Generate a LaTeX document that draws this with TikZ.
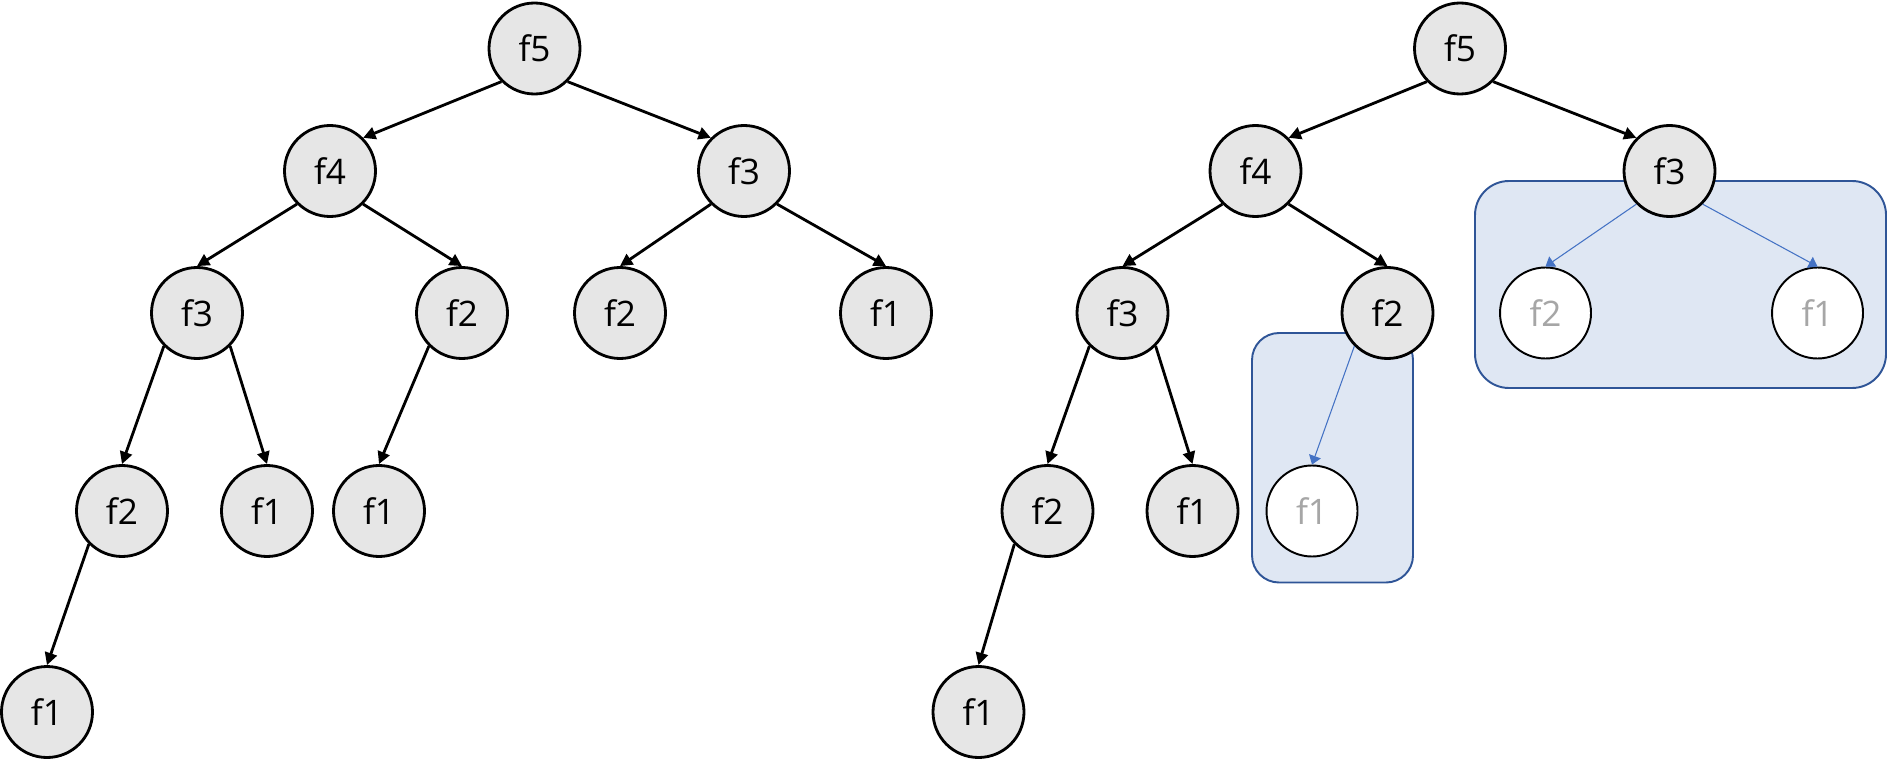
\documentclass[tikz,border=0pt]{standalone}
\usepackage{fontspec}
\setmainfont{Open Sans}
\usepackage{tikz}
\usetikzlibrary{arrows.meta,positioning,backgrounds}
\definecolor{callgray}{HTML}{E6E6E6}
\definecolor{memofill}{HTML}{DFE7F3}
\definecolor{memoline}{HTML}{2F5597}
\definecolor{memoarrow}{HTML}{4472C4}
\definecolor{cachedtext}{HTML}{A6A6A6}

\begin{document}
\begin{tikzpicture}[
  font=\fontsize{20}{24}\selectfont,
  call/.style={circle,draw,line width=1.6pt,fill=callgray,minimum size=1.82cm,inner sep=0pt},
  cached/.style={call,line width=1.1pt,fill=white,text=cachedtext},
  memo/.style={draw=memoline,fill=memofill,line width=1.1pt},
  link/.style={-{Triangle[length=7pt,width=7pt]},line width=1.6pt},
  reuse/.style={-{Triangle[length=5pt,width=7pt]},draw=memoarrow,line width=0.6pt},
  on grid]
\useasboundingbox (0,0) rectangle (37.74,-15.22);
% plain recursion
\node[call] (a5) at (10.69,-0.97) {f5};
\node[call,below left=2.45cm and 4.09cm of a5] (a4) {f4};
\node[call,below right=2.45cm and 4.19cm of a5] (a3) {f3};
\node[call,below left=2.84cm and 2.66cm of a4] (b3) {f3};
\node[call,below right=2.84cm and 2.64cm of a4] (b2) {f2};
\node[call,below left=2.84cm and 2.48cm of a3] (c2) {f2};
\node[call,below right=2.84cm and 2.84cm of a3] (c1) {f1};
\node[call,below left=3.96cm and 1.50cm of b3] (d2) {f2};
\node[call,below right=3.96cm and 1.40cm of b3] (d1) {f1};
\node[call,below left=3.96cm and 1.66cm of b2] (e1) {f1};
\node[call,below left=4.02cm and 1.50cm of d2] (g1) {f1};
\draw[link] (a5.south west) -- (a4.north east);
\draw[link] (a5.south east) -- (a3.north west);
\draw[link] (a4.south west) -- (b3.north);
\draw[link] (a4.south east) -- (b2.north);
\draw[link] (a3.south west) -- (c2.north);
\draw[link] (a3.south east) -- (c1.north);
\draw[link] (b3.south west) -- (d2.north);
\draw[link] (b3.south east) -- (d1.north);
\draw[link] (b2.south west) -- (e1.north);
\draw[link] (d2.south west) -- (g1.north);
% memoized recursion
\node[call] (ra5) at (29.20,-0.97) {f5};
\node[call,below left=2.45cm and 4.09cm of ra5] (ra4) {f4};
\node[call,below right=2.45cm and 4.19cm of ra5] (ra3) {f3};
\node[call,below left=2.84cm and 2.66cm of ra4] (rb3) {f3};
\node[call,below right=2.84cm and 2.64cm of ra4] (rb2) {f2};
\node[cached,below left=2.84cm and 2.48cm of ra3] (rc2) {f2};
\node[cached,below right=2.84cm and 2.96cm of ra3] (rc1) {f1};
\node[call,below left=3.96cm and 1.50cm of rb3] (rd2) {f2};
\node[call,below right=3.96cm and 1.40cm of rb3] (rd1) {f1};
\node[cached,below left=3.96cm and 1.51cm of rb2] (re1) {f1};
\node[call,below left=4.02cm and 1.38cm of rd2] (rg1) {f1};
\begin{scope}[on background layer]
\draw[memo,rounded corners=0.54cm] (25.04,-6.66) rectangle (28.26,-11.65);
\draw[memo,rounded corners=0.68cm] (29.50,-3.62) rectangle (37.72,-7.76);
\end{scope}
\draw[link] (ra5.south west) -- (ra4.north east);
\draw[link] (ra5.south east) -- (ra3.north west);
\draw[link] (ra4.south west) -- (rb3.north);
\draw[link] (ra4.south east) -- (rb2.north);
\draw[reuse] (ra3.south west) -- (rc2.north);
\draw[reuse] (ra3.south east) -- (rc1.north);
\draw[link] (rb3.south west) -- (rd2.north);
\draw[link] (rb3.south east) -- (rd1.north);
\draw[reuse] (rb2.south west) -- (re1.north);
\draw[link] (rd2.south west) -- (rg1.north);
\end{tikzpicture}
\end{document}
